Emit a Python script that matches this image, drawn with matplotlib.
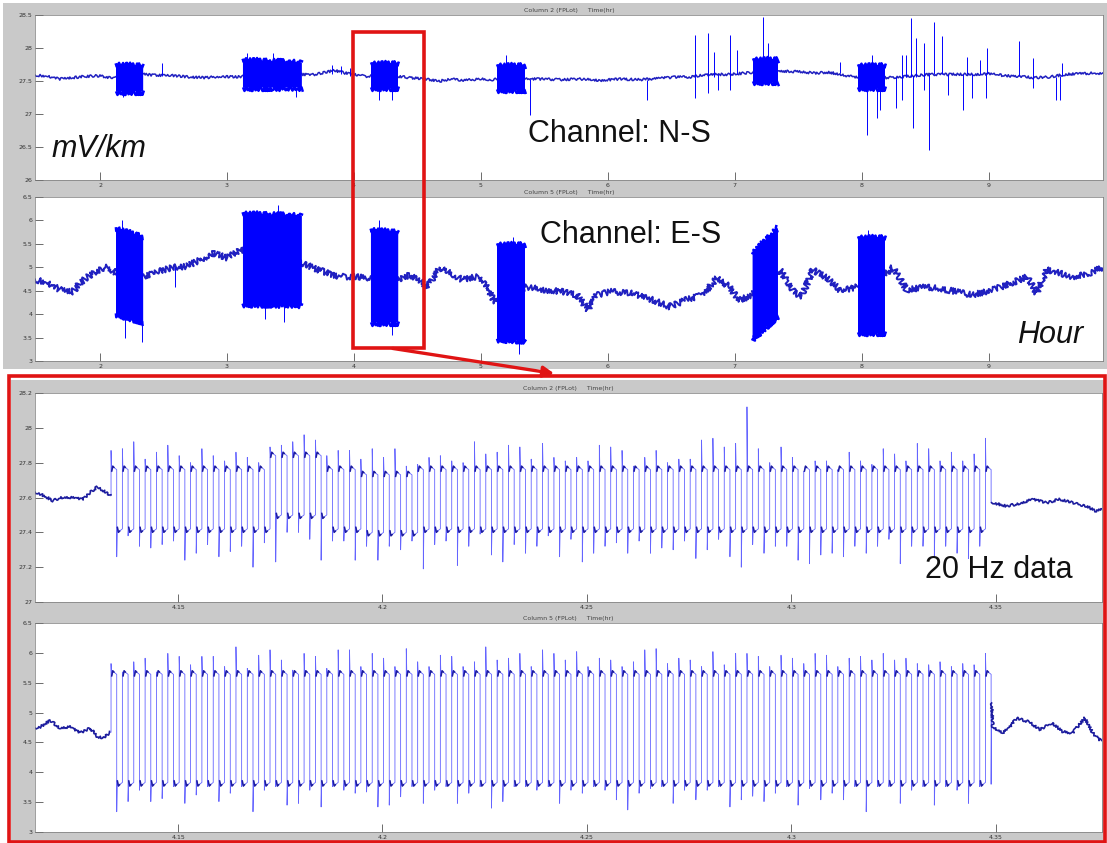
import numpy as np
import matplotlib
matplotlib.use("Agg")
import matplotlib.pyplot as plt
from matplotlib.patches import Rectangle, FancyArrowPatch, Polygon
from matplotlib.collections import LineCollection

W, H = 1107, 843  # output size in pixels

# ---- overview, channel N-S (Column 2), time in hours ----
ns_t = [1.488, 1.59, 1.685, 1.78, 1.88, 2.0, 2.08, 2.126, 2.34, 2.43, 2.59, 2.71,
        2.83, 2.94, 3.06, 3.126, 3.59, 3.69, 3.77, 3.85, 3.93, 4.01, 4.09, 4.134,
        4.349, 4.44, 4.56, 4.68, 4.76, 4.87, 4.99, 5.09, 5.13, 5.36, 5.46, 5.62,
        5.78, 5.94, 6.09, 6.25, 6.41, 6.53, 6.65, 6.72, 6.84, 6.96, 7.08, 7.14,
        7.35, 7.51, 7.63, 7.75, 7.87, 7.94, 8.2, 8.3, 8.42, 8.54, 8.65, 8.77,
        8.89, 9.01, 9.13, 9.24, 9.36, 9.48, 9.6, 9.72, 9.83, 9.9]
ns_v = [27.59, 27.57, 27.53, 27.55, 27.57, 27.58, 27.55, 27.56, 27.60, 27.59, 27.58, 27.56,
        27.55, 27.57, 27.56, 27.57, 27.60, 27.60, 27.63, 27.66, 27.62, 27.60, 27.57, 27.58,
        27.57, 27.55, 27.53, 27.50, 27.53, 27.51, 27.53, 27.52, 27.53, 27.53, 27.53, 27.52,
        27.53, 27.51, 27.53, 27.52, 27.54, 27.56, 27.56, 27.58, 27.60, 27.60, 27.62, 27.63,
        27.65, 27.64, 27.62, 27.63, 27.58, 27.56, 27.55, 27.56, 27.58, 27.60, 27.60, 27.60,
        27.60, 27.61, 27.58, 27.57, 27.55, 27.56, 27.60, 27.61, 27.62, 27.61]
# calibration bursts: start, end, low at start, low at end, high at start, high at end
ns_bursts = [(2.126, 2.34, 27.34, 27.34, 27.75, 27.73),
             (3.126, 3.59, 27.40, 27.40, 27.82, 27.78),
             (4.134, 4.349, 27.40, 27.40, 27.77, 27.77),
             (5.13, 5.35, 27.37, 27.37, 27.74, 27.74),
             (7.14, 7.34, 27.49, 27.49, 27.84, 27.84),
             (7.97, 8.18, 27.40, 27.40, 27.74, 27.74)]
# isolated spikes: time, lowest, highest
ns_spikes = [(2.18, 27.26, 27.4), (2.49, 27.58, 27.77), (3.16, 27.7, 27.92),
             (3.36, 27.7, 27.92), (3.54, 27.26, 27.4), (3.83, 27.6, 27.74),
             (3.9, 27.6, 27.72), (3.97, 27.58, 27.7), (4.2, 27.21, 27.4), (4.3, 27.21, 27.4),
             (5.2, 27.7, 27.89), (5.39, 26.98, 27.53), (6.31, 27.21, 27.52),
             (6.685, 27.24, 28.2), (6.79, 27.32, 28.23), (6.84, 27.56, 27.94),
             (6.87, 27.36, 27.6), (6.96, 27.36, 28.2), (7.02, 27.6, 27.97),
             (7.22, 27.8, 28.47), (7.26, 27.8, 28.07), (7.83, 27.62, 27.79),
             (8.04, 26.68, 27.4), (8.08, 27.7, 27.89), (8.12, 26.94, 27.4),
             (8.14, 27.06, 27.4), (8.27, 27.09, 27.56), (8.32, 27.21, 27.89),
             (8.35, 27.56, 27.89), (8.39, 27.56, 28.45), (8.4, 26.79, 27.58),
             (8.43, 27.56, 28.15), (8.49, 27.36, 28.07), (8.53, 26.45, 27.6),
             (8.57, 27.6, 28.4), (8.63, 27.6, 28.18), (8.68, 27.29, 27.6),
             (8.8, 27.06, 27.6), (8.83, 27.6, 27.86), (8.87, 27.24, 27.6),
             (8.93, 27.6, 27.82), (8.98, 27.24, 27.61), (8.99, 27.61, 28.0),
             (9.24, 27.57, 28.1), (9.35, 27.39, 27.85), (9.53, 27.21, 27.56),
             (9.56, 27.21, 27.58), (9.58, 27.58, 27.77)]

# ---- overview, channel E-S (Column 5) ----
es_t = [1.488, 1.583, 1.685, 1.787, 1.843, 1.945, 2.0, 2.055, 2.118, 2.339, 2.449,
        2.575, 2.685, 2.787, 2.89, 3.0, 3.102, 3.59, 3.677, 3.787, 3.89, 3.992, 4.1,
        4.349, 4.44, 4.52, 4.575, 4.677, 4.756, 4.858, 4.968, 5.047, 5.11, 5.362,
        5.488, 5.646, 5.756, 5.843, 5.913, 6.016, 6.173, 6.307, 6.488, 6.622,
        6.748, 6.858, 6.96, 7.016, 7.04, 7.118, 7.354, 7.472, 7.528, 7.614, 7.724,
        7.827, 7.929, 8.197, 8.244, 8.354, 8.512, 8.669, 8.874, 9.031, 9.189, 9.3,
        9.378, 9.457, 9.661, 9.795, 9.898]
es_v = [4.74, 4.67, 4.52, 4.48, 4.67, 4.88, 4.95, 5.0, 4.9, 4.8, 4.9,
        5.0, 5.02, 5.16, 5.3, 5.2, 5.37, 5.09, 4.99, 4.88, 4.8, 4.8, 4.78,
        4.73, 4.84, 4.73, 4.58, 4.99, 4.88, 4.73, 4.8, 4.58, 4.24, 4.58,
        4.52, 4.48, 4.41, 4.1, 4.41, 4.48, 4.45, 4.35, 4.16, 4.31,
        4.41, 4.77, 4.58, 4.35, 4.31, 4.38, 4.95, 4.45, 4.38, 4.95, 4.77,
        4.52, 4.55, 4.88, 5.0, 4.52, 4.58, 4.52, 4.41, 4.52, 4.67, 4.8,
        4.45, 4.95, 4.8, 4.88, 5.0]
es_bursts = [(2.126, 2.34, 3.99, 3.82, 5.83, 5.65),
             (3.126, 3.59, 4.2, 4.18, 6.15, 6.1),
             (4.134, 4.349, 3.82, 3.82, 5.8, 5.75),
             (5.13, 5.35, 3.45, 3.42, 5.5, 5.5),
             (7.14, 7.34, 3.46, 3.95, 5.3, 5.84),
             (7.97, 8.18, 3.6, 3.6, 5.65, 5.65)]
es_spikes = [(2.17, 5.5, 6.0), (2.2, 3.5, 4.2), (2.33, 3.41, 4.0), (3.3, 3.9, 4.3),
             (3.4, 5.9, 6.33), (3.45, 3.84, 4.3), (4.2, 5.6, 6.0), (4.3, 3.56, 4.0),
             (5.25, 5.3, 5.65), (5.3, 3.14, 3.6), (8.05, 5.5, 5.8), (8.1, 3.56, 3.8),
             (2.59, 4.58, 5.0)]

# ---- 20 Hz detail, 4.115 h to 4.376 h ----
cal_start = 4.1336      # first rising edge (h)
cal_period = 10.0       # square-wave period (s)

ns20_pre_t = [4.115, 4.1163, 4.118, 4.1194, 4.1211, 4.1236, 4.1268, 4.1285, 4.1302, 4.1317, 4.1334]
ns20_pre_v = [27.63, 27.62, 27.60, 27.58, 27.60, 27.60, 27.59, 27.63, 27.66, 27.64, 27.61]
ns20_post_t = [4.3490, 4.3493, 4.3527, 4.3566, 4.359, 4.3625, 4.3656, 4.3688, 4.3722, 4.3747, 4.3759]
ns20_post_v = [27.57, 27.57, 27.55, 27.57, 27.59, 27.57, 27.59, 27.57, 27.55, 27.52, 27.54]
ns20_hi, ns20_lo = 27.76, 27.42
# cycles whose levels sit off the usual plateau: first, last, high, low
ns20_shift = [(14, 18, 27.84, 27.50), (22, 26, 27.73, 27.40)]
# overshoot at each rising edge and undershoot at each falling edge
ns20_peaks = [27.87, 27.88, 27.92, 27.82, 27.86, 27.90, 27.84, 27.80, 27.88, 27.84,
              27.81, 27.86, 27.83, 27.80, 27.89, 27.90, 27.92, 27.96, 27.93, 27.84,
              27.87, 27.87, 27.82, 27.88, 27.83, 27.88, 27.78, 27.79, 27.83, 27.84,
              27.81, 27.80, 27.92, 27.85, 27.86, 27.90, 27.89, 27.82, 27.91, 27.83,
              27.81, 27.83, 27.81, 27.90, 27.89, 27.87, 27.78, 27.83, 27.87, 27.80,
              27.82, 27.82, 27.93, 27.94, 27.89, 27.91, 28.12, 27.88, 27.80, 27.89,
              27.83, 27.75, 27.81, 27.81, 27.76, 27.86, 27.81, 27.79, 27.88, 27.85,
              27.81, 27.91, 27.88, 27.81, 27.86, 27.81, 27.85, 27.94]
ns20_troughs = [27.26, 27.38, 27.32, 27.31, 27.33, 27.35, 27.24, 27.28, 27.33, 27.26,
                27.29, 27.32, 27.20, 27.34, 27.23, 27.40, 27.40, 27.36, 27.24, 27.35,
                27.35, 27.24, 27.32, 27.24, 27.32, 27.30, 27.35, 27.19, 27.33, 27.35,
                27.21, 27.32, 27.39, 27.27, 27.23, 27.33, 27.28, 27.32, 27.38, 27.26,
                27.36, 27.23, 27.28, 27.32, 27.34, 27.28, 27.35, 27.28, 27.31, 27.30,
                27.35, 27.25, 27.30, 27.36, 27.26, 27.20, 27.33, 27.28, 27.32, 27.32,
                27.24, 27.22, 27.27, 27.28, 27.26, 27.32, 27.28, 27.32, 27.36, 27.22,
                27.32, 27.32, 27.26, 27.32, 27.28, 27.25, 27.32, 27.57]

es20_pre_t = [4.115, 4.1163, 4.1187, 4.1211, 4.1236, 4.126, 4.1285, 4.1302, 4.1317, 4.1334]
es20_pre_v = [4.74, 4.76, 4.87, 4.74, 4.76, 4.66, 4.74, 4.60, 4.57, 4.67]
es20_post_t = [4.3490, 4.3493, 4.3517, 4.3534, 4.3551, 4.3583, 4.3608, 4.3637, 4.3664,
               4.3688, 4.3718, 4.3737, 4.3754, 4.3759]
es20_post_v = [5.16, 4.76, 4.66, 4.75, 4.91, 4.84, 4.71, 4.83, 4.68, 4.66, 4.91, 4.66, 4.54, 4.55]
es20_hi, es20_lo = 5.64, 3.83
es20_shift = []
es20_peaks = [5.82, 5.68, 5.85, 5.91, 5.68, 5.99, 5.94, 5.80, 5.94, 5.94,
              5.77, 6.10, 5.74, 5.96, 6.05, 5.88, 5.71, 5.99, 5.94, 5.74,
              6.05, 6.05, 5.77, 5.99, 5.91, 5.77, 6.07, 5.85, 5.77, 5.96,
              5.94, 5.77, 5.85, 6.10, 5.88, 5.91, 5.99, 5.77, 6.05, 5.99,
              5.88, 6.02, 5.77, 5.91, 5.88, 5.77, 5.85, 6.05, 6.07, 5.82,
              5.91, 5.88, 5.77, 6.02, 5.80, 5.99, 5.99, 5.94, 5.77, 5.96,
              5.91, 5.82, 5.99, 5.96, 5.77, 5.91, 5.94, 5.88, 5.99, 5.88,
              5.91, 5.82, 5.80, 5.85, 5.77, 5.82, 5.80, 5.99]
es20_troughs = [3.34, 3.51, 3.70, 3.51, 3.56, 3.76, 3.48, 3.62, 3.76, 3.51,
                3.65, 3.76, 3.34, 3.70, 3.76, 3.45, 3.48, 3.70, 3.42, 3.76,
                3.70, 3.65, 3.67, 3.42, 3.45, 3.59, 3.76, 3.48, 3.70, 3.76,
                3.48, 3.65, 3.76, 3.40, 3.51, 3.76, 3.76, 3.70, 3.76, 3.48,
                3.70, 3.65, 3.76, 3.70, 3.54, 3.37, 3.65, 3.73, 3.76, 3.48,
                3.70, 3.54, 3.70, 3.76, 3.42, 3.54, 3.60, 3.51, 3.65, 3.76,
                3.45, 3.73, 3.54, 3.65, 3.54, 3.76, 3.34, 3.76, 3.76, 3.48,
                3.70, 3.76, 3.45, 3.76, 3.70, 3.48, 3.76, 3.80]

BLUE = "#0000ff"
DARK = "#1c1c9e"
EDGE = "#6464ff"
RED = "#e01414"
GRAY = "#c9c9c9"

fig = plt.figure(figsize=(W / 100, H / 100), dpi=100)
fig.patch.set_facecolor("white")


def px_axes(x0, y0, x1, y1):
    return fig.add_axes([x0 / W, 1 - y1 / H, (x1 - x0) / W, (y1 - y0) / H])


def px_rect(x0, y0, x1, y1, **kw):
    r = Rectangle((x0 / W, 1 - y1 / H), (x1 - x0) / W, (y1 - y0) / H,
                  transform=fig.transFigure, **kw)
    fig.add_artist(r)
    return r


def style(ax, xlim, ylim, xticks, xlabels, yticks, ylabels, title):
    ax.set_xlim(*xlim)
    ax.set_ylim(*ylim)
    ax.set_xticks(xticks, xlabels)
    ax.set_yticks(yticks, ylabels)
    ax.tick_params(direction="in", length=6, width=0.6, colors="#555555",
                   labelcolor="#333333", labelsize=4.5, pad=2)
    for s in ax.spines.values():
        s.set_color("#777777")
        s.set_linewidth(0.5)
    ax.set_title(title, fontsize=4.5, color="#444444", pad=2)


def overview(ax, t, v, bursts, spikes, wiggle, width):
    line, = ax.plot(t, v, color="#2020c0", lw=width)
    line.set_sketch_params(scale=wiggle, length=2.5, randomness=3)
    for t0, t1, lo0, lo1, hi0, hi1 in bursts:
        poly = Polygon([(t0, lo0), (t0, hi0), (t1, hi1), (t1, lo1)], closed=True,
                       facecolor=BLUE, edgecolor="none", zorder=3)
        ax.add_patch(poly)
        # ragged top and bottom of the burst envelope
        for ends in ([lo0, lo1], [hi0, hi1]):
            edge, = ax.plot([t0, t1], ends, color=BLUE, lw=1.8, zorder=3)
            edge.set_sketch_params(scale=2.5, length=1.5, randomness=3)
    st, slo, shi = zip(*spikes)
    ax.vlines(st, slo, shi, color=BLUE, lw=0.7, zorder=3)


def detail(ax, pre_t, pre_v, post_t, post_v, hi, lo, shifts, peaks, troughs, hook):
    n = len(peaks)
    T = cal_period / 3600
    rises = cal_start + np.arange(n) * T
    falls = rises + T / 2
    his = np.full(n, hi)
    los = np.full(n, lo)
    for k0, k1, h, l in shifts:
        his[k0:k1 + 1] = h
        los[k0:k1 + 1] = l

    xs, ys = [pre_t[-1]], [pre_v[-1]]
    hooks = []
    for k in range(n):
        r, f = rises[k], falls[k]
        top = [(r + 0.05 * T, his[k] - 0.6 * hook), (r + 0.15 * T, his[k] + hook),
               (r + 0.3 * T, his[k] + 0.5 * hook)]
        xs += [r, r] + [p[0] for p in top] + [f, f]
        ys += [ys[-1], peaks[k]] + [p[1] for p in top] + [his[k], troughs[k]]
        hooks.append(top)
        if k < n - 1:
            bot = [(f + 0.05 * T, los[k] + 0.6 * hook), (f + 0.15 * T, los[k] - hook),
                   (f + 0.3 * T, los[k] - 0.5 * hook)]
            xs += [p[0] for p in bot] + [rises[k + 1]]
            ys += [p[1] for p in bot] + [los[k]]
            hooks.append(bot)
    xs.append(post_t[0])
    ys.append(post_v[0])

    ax.plot(xs, ys, color=EDGE, lw=0.6)
    ax.add_collection(LineCollection(hooks, colors=DARK, lw=1.1))
    for tt, vv in ((pre_t, pre_v), (post_t, post_v)):
        line, = ax.plot(tt, vv, color=DARK, lw=1.2)
        line.set_sketch_params(scale=1.2, length=2, randomness=3)


# gray screenshot frames
px_rect(3, 3, 1107, 369, facecolor=GRAY, edgecolor="none", zorder=-5)
px_rect(11, 380, 1105, 843, facecolor=GRAY, edgecolor="none", zorder=-5)

hours = [2, 3, 4, 5, 6, 7, 8, 9]
ax1 = px_axes(35, 15, 1103, 180)
overview(ax1, ns_t, ns_v, ns_bursts, ns_spikes, 1.2, 1.1)
style(ax1, (1.488, 9.9), (26, 28.5), hours, [str(h) for h in hours],
      [26, 26.5, 27, 27.5, 28, 28.5], ["26", "26.5", "27", "27.5", "28", "28.5"],
      "Column 2 (FPLot)     Time(hr)")

ax2 = px_axes(35, 197, 1103, 361)
overview(ax2, es_t, es_v, es_bursts, es_spikes, 3.0, 1.4)
style(ax2, (1.488, 9.9), (3, 6.5), hours, [str(h) for h in hours],
      [3, 3.5, 4, 4.5, 5, 5.5, 6, 6.5], ["3", "3.5", "4", "4.5", "5", "5.5", "6", "6.5"],
      "Column 5 (FPLot)     Time(hr)")

fine = [4.15, 4.2, 4.25, 4.3, 4.35]
fine_lab = ["4.15", "4.2", "4.25", "4.3", "4.35"]
ax3 = px_axes(35, 393, 1102, 602)
detail(ax3, ns20_pre_t, ns20_pre_v, ns20_post_t, ns20_post_v,
       ns20_hi, ns20_lo, ns20_shift, ns20_peaks, ns20_troughs, 0.02)
style(ax3, (4.115, 4.376), (27, 28.2), fine, fine_lab,
      [27, 27.2, 27.4, 27.6, 27.8, 28, 28.2],
      ["27", "27.2", "27.4", "27.6", "27.8", "28", "28.2"],
      "Column 2 (FPLot)     Time(hr)")

ax4 = px_axes(35, 623, 1102, 832)
detail(ax4, es20_pre_t, es20_pre_v, es20_post_t, es20_post_v,
       es20_hi, es20_lo, es20_shift, es20_peaks, es20_troughs, 0.06)
style(ax4, (4.115, 4.376), (3, 6.5), fine, fine_lab,
      [3, 3.5, 4, 4.5, 5, 5.5, 6, 6.5], ["3", "3.5", "4", "4.5", "5", "5.5", "6", "6.5"],
      "Column 5 (FPLot)     Time(hr)")

# red highlight, arrow and zoom box
px_rect(353, 32, 424, 348, facecolor="none", edgecolor=RED, lw=2.6, zorder=10)
px_rect(9, 376, 1105, 842, facecolor="none", edgecolor=RED, lw=2.6, zorder=10)
arrow = FancyArrowPatch((390 / W, 1 - 348 / H), (557 / W, 1 - 374 / H),
                        transform=fig.transFigure, arrowstyle="-|>",
                        mutation_scale=16, lw=2.4, color=RED, zorder=11)
fig.add_artist(arrow)

label = dict(fontsize=22, family="Liberation Sans", color="#111111", va="baseline")
fig.text(52 / W, 1 - 157 / H, "mV/km", style="italic", **label)
fig.text(528 / W, 1 - 142 / H, "Channel: N-S", **label)
fig.text(540 / W, 1 - 243 / H, "Channel: E-S", **label)
fig.text(1017 / W, 1 - 343 / H, "Hour", style="italic", **label)
fig.text(925 / W, 1 - 578 / H, "20 Hz data", **label)

fig.savefig("out.png", dpi=100)
